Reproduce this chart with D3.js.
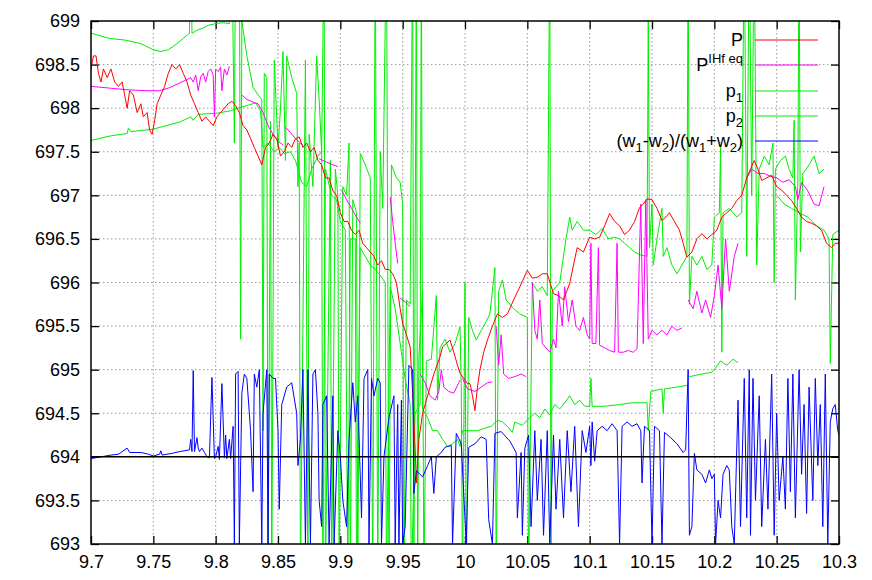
<!DOCTYPE html>
<html>
<head>
<meta charset="utf-8">
<script src="https://cdn.jsdelivr.net/npm/d3@7"></script>
<style>
  body { margin: 0; background: #fff; }
  text { font-family: "Liberation Sans", Arial, sans-serif; }
</style>
</head>
<body>
<div id="chart"></div>
<script>
// data: [x, value], null = gap in the line
var P = [[9.700,698.45],[9.702,698.6],[9.704,698.6],[9.706,698.4],[9.708,698.3],[9.710,698.45],[9.713,698.35],[9.716,698.45],[9.719,698.3],[9.722,698.25],[9.725,698.3],[9.727,698.15],[9.729,698.0],[9.731,698.2],[9.734,698.15],[9.737,697.95],[9.740,698.05],[9.742,697.9],[9.745,697.95],[9.747,697.75],[9.749,697.7],[9.751,697.85],[9.753,698.05],[9.756,698.15],[9.759,698.25],[9.762,698.4],[9.765,698.5],[9.768,698.45],[9.771,698.5],[9.774,698.4],[9.777,698.3],[9.780,698.15],[9.783,698.05],[9.786,697.95],[9.789,697.85],[9.792,697.9],[9.795,697.85],[9.798,697.8],[9.801,697.9],[9.804,697.95],[9.807,698.0],[9.810,698.05],[9.813,698.08],[9.816,698.03],[9.819,697.95],[9.822,697.8],[9.825,697.75],[9.828,697.65],[9.831,697.55],[9.834,697.45],[9.837,697.35],[9.840,697.55],[9.843,697.6],[9.846,697.7],[9.849,697.65],[9.852,697.45],[9.855,697.5],[9.858,697.6],[9.861,697.55],[9.864,697.65],[9.867,697.67],[9.870,697.55],[9.873,697.6],[9.876,697.5],[9.879,697.55],[9.882,697.4],[9.885,697.35],[9.888,697.2],[9.891,697.2],[9.894,697.05],[9.897,697.0],[9.900,696.8],[9.903,696.7],[9.906,696.7],[9.909,696.6],[9.912,696.55],[9.915,696.6],[9.918,696.45],[9.921,696.4],[9.924,696.35],[9.927,696.3],[9.930,696.2],[9.933,696.25],[9.936,696.15],[9.939,696.15],[9.942,696.1],[9.945,696.0],[9.948,695.7],[9.950,695.53],[9.953,695.4],[9.956,695.26],[9.958,694.73],[9.960,694.1],[9.961,693.7],[9.963,694.2],[9.966,694.5],[9.969,694.65],[9.972,694.8],[9.975,694.95],[9.977,695.03],[9.980,695.15],[9.982,695.26],[9.985,695.3],[9.988,695.34],[9.991,695.2],[9.994,695.05],[9.996,694.96],[9.999,694.9],[10.002,694.84],[10.004,694.84],[10.006,694.7],[10.008,694.53],[10.010,694.8],[10.012,695.0],[10.015,695.2],[10.018,695.34],[10.022,695.5],[10.026,695.64],[10.030,695.6],[10.034,695.64],[10.039,695.8],[10.044,695.95],[10.050,696.14],[10.054,696.05],[10.058,696.06],[10.062,696.1],[10.066,696.1],[10.071,695.87],[10.075,695.85],[10.079,695.8],[10.084,695.99],[10.087,696.2],[10.090,696.4],[10.095,696.35],[10.100,696.52],[10.104,696.5],[10.108,696.52],[10.112,696.65],[10.116,696.79],[10.120,696.7],[10.124,696.65],[10.128,696.55],[10.132,696.6],[10.136,696.7],[10.140,696.86],[10.143,696.9],[10.146,696.96],[10.150,696.95],[10.154,696.85],[10.158,696.71],[10.161,696.75],[10.164,696.8],[10.168,696.7],[10.172,696.6],[10.175,696.45],[10.178,696.29],[10.182,696.35],[10.186,696.5],[10.190,696.56],[10.194,696.5],[10.198,696.55],[10.202,696.6],[10.206,696.75],[10.210,696.8],[10.214,696.85],[10.218,696.94],[10.222,697.0],[10.226,697.2],[10.229,697.3],[10.232,697.4],[10.235,697.3],[10.238,697.17],[10.242,697.2],[10.246,697.23],[10.250,697.1],[10.254,697.06],[10.258,697.0],[10.262,696.94],[10.266,696.85],[10.270,696.75],[10.274,696.7],[10.278,696.68],[10.282,696.65],[10.286,696.6],[10.290,696.45],[10.294,696.4],[10.297,696.45],[10.300,696.45]];

var PIHf = [[9.700,698.25],[9.715,698.23],[9.730,698.21],[9.745,698.2],[9.755,698.2],[9.762,698.23],[9.770,698.28],[9.777,698.33],[9.780,698.35],[9.782,698.3],[9.784,698.38],[9.786,698.2],[9.788,698.36],[9.790,698.4],[9.792,698.3],[9.794,698.42],[9.796,698.45],[9.798,698.38],[9.799,697.9],[9.800,698.45],[9.802,698.42],[9.804,698.47],[9.805,698.2],[9.807,698.45],[9.809,698.38],[9.811,698.48],null,
  [9.821,698.15],[9.825,698.1],[9.830,698.07],[9.834,698.05],[9.838,697.95],[9.842,697.8],[9.846,697.7],[9.850,697.62],[9.854,697.58],null,
  [9.856,697.78],[9.860,697.72],[9.864,697.65],[9.868,697.6],[9.871,697.55],null,
  [9.883,697.42],[9.889,697.38],[9.894,697.35],[9.898,697.33],null,
  [9.901,697.06],[9.905,696.95],[9.909,696.85],[9.913,696.75],[9.916,696.68],null,
  [9.940,696.98],[9.942,696.7],[9.944,696.45],[9.946,696.22],null,
  [9.948,695.82],[9.952,695.78],[9.956,695.72],null,
  [9.964,694.95],[9.968,694.85],[9.972,694.7],[9.976,694.65],[9.979,694.75],[9.981,695.0],[9.983,694.8],[9.987,694.75],[9.991,694.73],[9.996,694.88],null,
  [9.998,694.9],[10.002,694.78],[10.008,694.75],[10.013,694.8],[10.018,694.85],[10.022,694.86],null,
  [10.025,695.5],[10.027,695.05],[10.029,695.4],[10.031,694.95],[10.035,694.9],[10.040,694.92],[10.045,694.95],[10.049,694.92],null,
  [10.054,696.0],[10.056,695.45],[10.058,695.35],[10.060,695.8],[10.062,695.3],[10.065,695.25],[10.068,695.2],[10.071,695.35],[10.073,695.25],[10.075,695.9],[10.078,695.5],[10.080,695.95],[10.083,695.55],[10.086,695.8],[10.089,695.5],[10.092,695.45],[10.095,695.6],[10.098,695.4],[10.100,695.35],[10.101,696.45],[10.102,695.3],[10.105,695.3],[10.107,696.4],[10.108,695.28],[10.112,695.25],[10.116,695.22],[10.120,695.2],[10.122,696.45],[10.123,695.2],[10.127,695.2],[10.131,695.22],[10.135,695.2],[10.138,695.24],[10.141,696.9],[10.143,695.3],[10.145,696.95],[10.147,695.35],[10.150,695.45],[10.154,695.4],[10.158,695.45],[10.162,695.4],[10.166,695.5],[10.170,695.45],[10.174,695.48],null,
  [10.179,695.8],[10.183,695.7],[10.186,695.9],[10.190,695.65],[10.193,695.8],[10.197,695.6],[10.200,695.85],[10.203,696.2],[10.206,695.7],[10.209,696.5],[10.212,695.9],[10.216,696.3],[10.219,696.45],null,
  [10.226,697.2],[10.230,697.3],[10.235,697.25],[10.240,697.25],[10.245,697.22],[10.250,697.2],[10.255,697.15],[10.260,697.18],[10.265,697.1],[10.267,696.95],[10.270,697.15],[10.275,697.05],[10.280,696.9],[10.284,696.88],[10.288,697.1]];

var p1 = [[9.700,698.86],[9.715,698.8],[9.728,698.78],[9.740,698.74],[9.750,698.67],[9.756,698.65],[9.762,698.67],[9.768,698.73],[9.774,698.8],[9.779,698.86],[9.780,700],[9.781,698.86],[9.786,698.9],[9.790,698.92],[9.794,698.95],[9.800,698.97],[9.806,698.98],[9.811,698.97],[9.812,700],[9.813,700],[9.814,698.75],[9.815,697.6],[9.816,700],
  [9.819,700],[9.820,695.35],[9.821,699.0],[9.825,698.6],[9.830,698.24],[9.834,698.15],[9.837,698.1],[9.838,694.3],[9.839,698.4],[9.841,698.35],[9.842,692.5],[9.844,697.85],[9.845,692.5],[9.847,698.55],[9.850,697.55],[9.852,698.0],[9.854,698.65],[9.856,697.4],[9.857,698.6],[9.861,698.35],[9.865,698.17],[9.866,697.1],[9.867,697.6],[9.868,692.5],[9.872,698.55],[9.874,692.5],[9.875,697.7],[9.878,697.1],[9.881,698.6],[9.883,698.1],[9.885,697.5],[9.887,700],[9.888,692.5],[9.892,697.4],[9.893,692.5],[9.896,697.3],[9.898,697.0],[9.899,692.5],[9.902,697.1],[9.905,697.0],[9.907,697.6],[9.908,692.5],[9.910,696.95],[9.913,696.8],[9.914,692.5],[9.916,697.48],[9.920,697.35],[9.924,697.2],[9.926,692.5],[9.928,700],[9.930,692.5],[9.932,697.5],[9.934,696.85],[9.937,700],[9.939,692.5],[9.941,697.35],[9.945,697.2],[9.948,697.15],[9.950,696.9],[9.951,692.5],[9.953,695.8],[9.956,695.75],[9.958,700],[9.959,692.5],[9.961,700],[9.962,692.5],[9.963,695.15],[9.966,695.9],[9.967,692.5],[9.969,695.1],[9.973,695.12],[9.977,695.85],[9.978,694.65],[9.980,695.25],[9.984,695.35],[9.988,695.2],[9.992,695.3],[9.996,695.49],[9.997,694.8],[9.998,692.5],[10.000,696.0],[10.001,692.5],[10.003,695.6],[10.006,695.45],[10.009,695.34],[10.013,695.45],[10.017,695.55],[10.020,695.64],[10.024,696.17],[10.025,692.5],[10.027,695.9],[10.030,696.03],[10.033,695.8],[10.039,695.7],[10.044,695.64],[10.050,695.6],[10.051,692.5],[10.054,696.0],[10.058,695.9],[10.062,695.95],[10.066,695.85],[10.068,700],[10.069,692.5],[10.070,695.9],[10.073,695.95],[10.076,696.0],[10.081,696.5],[10.084,696.75],[10.086,696.6],[10.090,696.7],[10.095,696.6],[10.100,696.6],[10.105,696.55],[10.110,696.62],[10.115,696.5],[10.120,696.52],[10.124,696.5],[10.128,696.45],[10.132,696.4],[10.136,696.35],[10.140,696.32],[10.146,696.3],[10.147,699.0],[10.148,696.4],[10.150,696.9],[10.151,696.2],[10.154,696.5],[10.158,696.85],[10.159,696.3],[10.162,696.4],[10.166,696.2],[10.170,696.1],[10.174,696.2],[10.178,696.3],[10.179,700],[10.180,695.75],[10.182,696.3],[10.186,696.2],[10.190,696.3],[10.194,696.15],[10.198,696.2],[10.200,696.75],[10.204,696.8],[10.205,697.55],[10.206,695.2],[10.207,696.8],[10.212,696.85],[10.218,696.75],[10.222,696.8],[10.224,700],[10.226,696.3],[10.228,700],[10.230,697.0],[10.232,700],[10.234,696.2],[10.236,697.3],[10.240,697.45],[10.244,697.35],[10.247,697.6],[10.248,696.0],[10.249,697.3],[10.253,697.4],[10.257,697.45],[10.260,697.3],[10.263,697.2],[10.264,697.86],[10.265,695.8],[10.267,697.2],[10.268,700],[10.269,696.35],[10.271,697.25],[10.276,697.35],[10.280,697.45],[10.284,697.25],[10.288,697.3]];

var p2 = [[9.700,697.63],[9.715,697.68],[9.729,697.71],[9.730,697.77],[9.732,697.73],[9.750,697.76],[9.771,697.84],[9.780,697.9],[9.782,697.86],[9.786,697.93],[9.800,697.94],[9.812,697.97],[9.818,698.0],[9.825,698.03],[9.832,698.06],[9.836,697.97],[9.838,697.55],[9.842,697.6],[9.847,697.5],[9.851,697.55],[9.855,697.48],[9.860,697.5],[9.864,697.4],[9.869,697.15],[9.873,697.1],[9.877,697.3],[9.882,697.45],[9.885,697.5],[9.886,692.5],[9.888,697.3],[9.893,697.0],[9.897,696.95],[9.900,696.7],[9.904,696.6],[9.906,692.5],[9.908,696.5],[9.912,696.5],[9.913,692.5],[9.916,696.4],[9.920,696.3],[9.924,696.2],[9.928,696.15],[9.931,696.1],[9.936,696.0],[9.937,692.5],[9.940,695.95],[9.944,695.7],[9.948,695.3],[9.952,694.9],[9.956,694.6],[9.957,692.5],[9.960,694.5],[9.964,694.6],[9.965,700],[9.966,694.55],[9.970,694.45],[9.974,694.3],[9.978,694.3],[9.982,694.2],[9.986,694.12],[9.990,694.15],[9.994,694.2],[9.996,694.12],[9.998,694.3],[10.004,694.3],[10.010,694.3],[10.016,694.33],[10.021,694.35],[10.026,694.42],[10.030,694.4],[10.034,694.35],[10.038,694.28],[10.040,694.4],[10.046,694.36],[10.052,694.45],[10.056,694.5],[10.060,694.45],[10.064,694.55],[10.068,694.48],[10.072,694.6],[10.076,694.55],[10.080,694.62],[10.084,694.7],[10.088,694.6],[10.092,694.65],[10.096,694.58],[10.100,694.58],[10.101,694.9],[10.102,694.58],[10.112,694.58],[10.124,694.6],[10.134,694.62],[10.146,694.62],[10.147,694.3],[10.149,694.75],[10.158,694.78],[10.159,694.5],[10.160,694.78],[10.170,694.8],[10.178,694.82],null,
  [10.180,694.92],[10.190,694.95],[10.198,694.97],[10.201,695.02],[10.205,695.1],[10.210,695.05],[10.215,695.12],[10.219,695.08],null,
  [10.250,697.0],[10.256,696.9],[10.262,696.85],[10.268,696.8],[10.275,696.75],[10.282,696.65],[10.288,696.6],[10.292,696.5],[10.293,695.07],[10.295,696.55],[10.300,696.6]];

var W = [[9.700,693.98],[9.716,694.02],[9.722,694.03],[9.729,694.1],[9.731,694.05],[9.740,694.05],[9.746,694.03],[9.750,694.01],[9.755,694.03],[9.756,694.07],[9.757,694.02],[9.765,694.04],[9.771,694.06],[9.779,694.08],[9.780,694.2],[9.781,694.06],[9.782,694.99],[9.783,694.06],[9.785,694.22],[9.786,694.1],[9.787,694.06],[9.789,694.1],[9.791,694.05],[9.793,694.0],[9.795,693.99],[9.797,694.91],[9.799,693.98],[9.800,694.0],[9.802,694.12],[9.803,693.97],[9.805,694.84],[9.807,693.99],[9.808,694.25],[9.809,693.98],[9.811,694.2],[9.812,693.98],
  [9.814,694.35],[9.815,693.0],[9.816,694.95],[9.818,694.98],[9.819,693.0],[9.821,694.73],[9.823,694.95],[9.825,694.9],[9.828,694.3],[9.830,693.6],[9.831,694.95],[9.833,694.8],[9.835,695.0],[9.837,693.0],[9.838,694.5],[9.841,695.0],[9.842,693.0],[9.843,694.95],[9.846,694.9],[9.848,694.9],[9.850,694.3],[9.851,693.4],[9.853,694.6],[9.857,694.8],[9.861,694.85],[9.865,694.5],[9.866,693.9],[9.868,694.2],[9.870,695.0],[9.872,693.0],[9.874,695.0],[9.876,693.0],[9.878,694.95],[9.880,695.0],[9.882,694.5],[9.883,693.5],[9.885,693.2],[9.886,694.6],[9.889,694.7],[9.891,693.0],[9.894,694.7],[9.895,693.0],[9.898,694.3],[9.900,694.0],[9.902,693.5],[9.905,693.2],[9.907,694.2],[9.910,694.85],[9.912,694.4],[9.914,694.7],[9.917,693.3],[9.919,694.9],[9.922,695.0],[9.923,693.0],[9.925,694.9],[9.927,694.7],[9.930,694.9],[9.932,694.85],[9.933,693.0],[9.935,694.0],[9.939,694.45],[9.943,694.7],[9.944,693.0],[9.946,694.6],[9.947,693.0],[9.949,694.65],[9.950,693.0],[9.952,693.2],[9.955,695.05],[9.958,695.0],[9.959,693.58],[9.961,693.84],[9.966,693.77],[9.970,693.9],[9.973,694.0],[9.975,693.58],[9.977,694.0],[9.981,694.05],[9.984,694.11],[9.989,694.13],[9.990,693.0],[9.993,694.27],[9.997,694.15],[10.001,693.0],[10.003,694.11],[10.008,694.15],[10.013,694.23],[10.017,694.2],[10.019,693.28],[10.022,693.0],[10.024,694.27],[10.029,694.29],[10.036,694.18],[10.041,694.05],[10.042,693.3],[10.045,694.05],[10.046,693.1],[10.048,694.1],[10.051,694.25],[10.053,693.2],[10.056,694.3],[10.058,693.5],[10.061,694.2],[10.063,693.1],[10.066,694.3],[10.068,693.0],[10.071,694.25],[10.073,693.4],[10.076,694.2],[10.079,693.3],[10.082,694.3],[10.085,693.6],[10.088,694.35],[10.091,693.2],[10.094,694.3],[10.097,694.05],[10.100,694.35],[10.101,693.9],[10.102,694.4],[10.104,693.95],[10.106,694.3],[10.110,694.35],[10.114,694.3],[10.118,694.38],[10.122,694.3],[10.124,693.0],[10.126,694.35],[10.130,694.4],[10.134,694.35],[10.138,694.38],[10.141,694.3],[10.142,693.7],[10.144,694.35],[10.148,694.3],[10.150,693.0],[10.152,694.35],[10.156,694.3],[10.158,693.0],[10.160,694.28],[10.165,694.22],[10.170,694.15],[10.175,694.05],[10.177,694.08],
  [10.179,695.0],[10.180,693.1],[10.182,693.2],[10.184,694.04],[10.186,693.85],[10.190,693.8],[10.193,693.7],[10.196,693.85],[10.198,693.75],[10.200,693.8],[10.201,693.0],[10.203,693.5],[10.205,693.3],[10.207,693.8],[10.210,693.9],[10.212,693.85],[10.214,693.2],[10.216,693.0],[10.219,694.65],[10.221,693.2],[10.224,694.9],[10.226,693.3],[10.228,695.0],[10.229,693.1],[10.231,694.9],[10.233,693.5],[10.236,694.7],[10.238,693.2],[10.241,694.2],[10.243,693.4],[10.246,694.95],[10.248,693.1],[10.250,694.5],[10.252,693.5],[10.255,694.0],[10.257,693.4],[10.259,694.9],[10.261,693.6],[10.263,694.95],[10.265,693.3],[10.268,695.0],[10.270,693.8],[10.272,694.6],[10.274,693.35],[10.276,694.8],[10.279,693.5],[10.281,694.9],[10.283,693.9],[10.285,694.6],[10.287,693.2],[10.289,694.95],[10.291,693.0],[10.293,694.4],[10.295,694.55],[10.297,694.6],[10.299,694.3],[10.300,694.25]];

var xTicks = [9.7, 9.75, 9.8, 9.85, 9.9, 9.95, 10, 10.05, 10.1, 10.15, 10.2, 10.25, 10.3];
var xLabels = ["9.7", "9.75", "9.8", "9.85", "9.9", "9.95", "10", "10.05", "10.1", "10.15", "10.2", "10.25", "10.3"];
var yTicks = [693, 693.5, 694, 694.5, 695, 695.5, 696, 696.5, 697, 697.5, 698, 698.5, 699];
var yLabels = ["693", "693.5", "694", "694.5", "695", "695.5", "696", "696.5", "697", "697.5", "698", "698.5", "699"];
var refLevel = 694;

// set the dimensions and margins of the graph
var margin = {top: 21, right: 33, bottom: 36, left: 91},
    width = 872 - margin.left - margin.right,
    height = 580 - margin.top - margin.bottom;

var svg = d3.select("#chart")
    .append("svg")
    .attr("width", width + margin.left + margin.right)
    .attr("height", height + margin.top + margin.bottom)
    .append("g")
    .attr("transform", "translate(" + margin.left + "," + margin.top + ")");

var x = d3.scaleLinear().domain([9.7, 10.3]).range([0, width]);
var y = d3.scaleLinear().domain([693, 699]).range([height, 0]);

svg.append("clipPath").attr("id", "plot")
    .append("rect").attr("width", width).attr("height", height);

// dotted grid
svg.selectAll("xgrid")
    .data(xTicks.slice(1, -1))
    .enter().append("line")
    .attr("x1", function(d) { return x(d) }).attr("x2", function(d) { return x(d) })
    .attr("y1", 0).attr("y2", height)
    .attr("stroke", "#999").attr("stroke-dasharray", "1.5,2.5");
svg.selectAll("ygrid")
    .data(yTicks.slice(1, -1))
    .enter().append("line")
    .attr("y1", function(d) { return y(d) }).attr("y2", function(d) { return y(d) })
    .attr("x1", 0).attr("x2", width)
    .attr("stroke", "#999").attr("stroke-dasharray", "1.5,2.5");

// axes, ticks pointing inwards, mirrored on top and right
function styleAxis(g) {
    g.select(".domain").remove();
    g.selectAll(".tick line").attr("stroke", "#000").attr("stroke-width", 1.3);
    g.selectAll("text").attr("font-size", 18).attr("fill", "#000")
        .attr("font-family", "'Liberation Sans', Arial, sans-serif");
}
svg.append("g")
    .attr("transform", "translate(0," + height + ")")
    .call(d3.axisBottom(x).tickValues(xTicks).tickSize(-8).tickPadding(11)
        .tickFormat(function(d, i) { return xLabels[i] }))
    .call(styleAxis);
svg.append("g")
    .call(d3.axisLeft(y).tickValues(yTicks).tickSize(-8).tickPadding(11)
        .tickFormat(function(d, i) { return yLabels[i] }))
    .call(styleAxis);
svg.append("g")
    .call(d3.axisTop(x).tickValues(xTicks).tickSize(-8).tickFormat(""))
    .call(styleAxis);
svg.append("g")
    .attr("transform", "translate(" + width + ",0)")
    .call(d3.axisRight(y).tickValues(yTicks).tickSize(-8).tickFormat(""))
    .call(styleAxis);

// the lines
var line = d3.line()
    .defined(function(d) { return d !== null })
    .x(function(d) { return x(d[0]) })
    .y(function(d) { return y(d[1]) });

var series = [
    {data: p1, color: "#00ee00"},
    {data: p2, color: "#00ee00"},
    {data: PIHf, color: "#ff00ff"},
    {data: P, color: "#ff0000"},
    {data: W, color: "#0000ff"}
];
var plot = svg.append("g").attr("clip-path", "url(#plot)");
series.forEach(function(s) {
    plot.append("path")
        .datum(s.data)
        .attr("fill", "none")
        .attr("stroke", s.color)
        .attr("stroke-width", 1)
        .attr("stroke-linejoin", "round")
        .attr("d", line);
});

// black line at 694
svg.append("line")
    .attr("x1", 0).attr("x2", width)
    .attr("y1", y(refLevel)).attr("y2", y(refLevel))
    .attr("stroke", "#000").attr("stroke-width", 1.5);

// border
svg.append("rect")
    .attr("width", width).attr("height", height)
    .attr("fill", "none").attr("stroke", "#000").attr("stroke-width", 1.5);

// legend (second value: 0 normal, -1 superscript, 1 subscript)
var legend = [
    {parts: [["P", 0]], color: "#ff0000"},
    {parts: [["P", 0], ["IHf eq", -1]], color: "#ff00ff"},
    {parts: [["p", 0], ["1", 1]], color: "#00ee00"},
    {parts: [["p", 0], ["2", 1]], color: "#00ee00"},
    {parts: [["(w", 0], ["1", 1], ["-w", 0], ["2", 1], [")/(w", 0], ["1", 1], ["+w", 0], ["2", 1], [")", 0]], color: "#0000ff"}
];
var legRows = [19, 44, 70, 95, 120];
legend.forEach(function(l, i) {
    var t = svg.append("text")
        .attr("x", 652).attr("y", legRows[i] + 6)
        .attr("text-anchor", "end")
        .attr("font-size", 18);
    var shift = 0;
    l.parts.forEach(function(p) {
        var target = p[1] < 0 ? -8 : p[1] * 5;
        t.append("tspan")
            .attr("dy", target - shift)
            .attr("font-size", p[1] === 0 ? 18 : 13)
            .text(p[0]);
        shift = target;
    });
    svg.append("line")
        .attr("x1", 664).attr("x2", 727)
        .attr("y1", legRows[i]).attr("y2", legRows[i])
        .attr("stroke", l.color).attr("stroke-width", 1);
});
</script>
</body>
</html>
